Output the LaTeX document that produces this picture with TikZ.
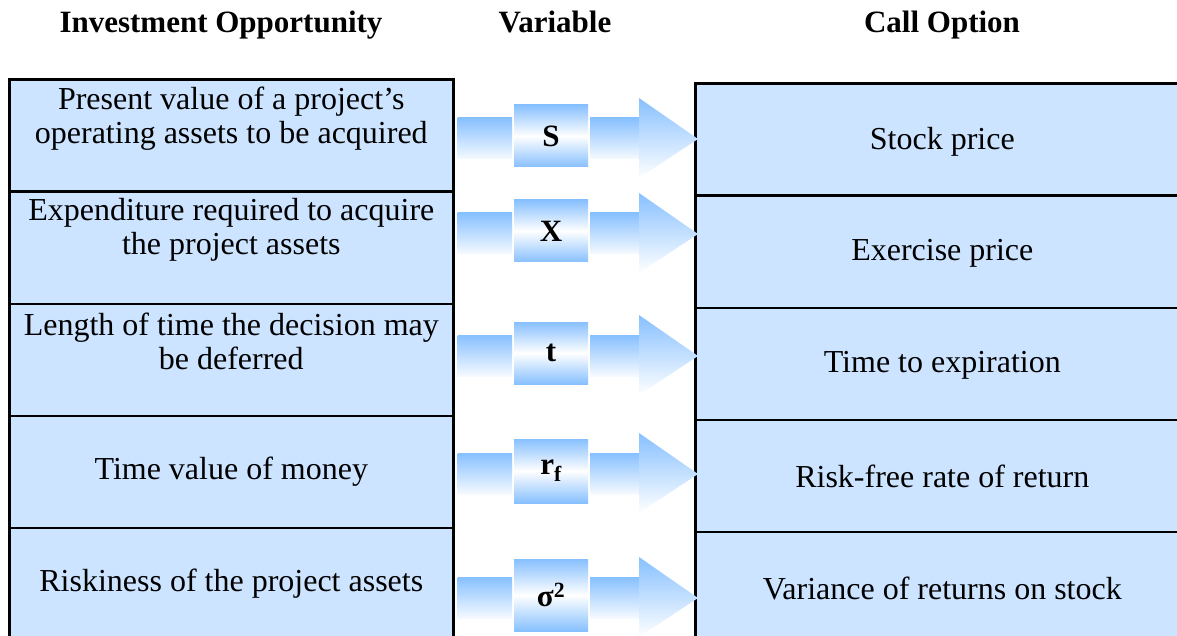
\documentclass[tikz,border=0pt]{standalone}
\usepackage{fontspec}
\IfFontExistsTF{LiberationSerif-Regular.ttf}{%
  \setmainfont{LiberationSerif}[Extension=.ttf,UprightFont=*-Regular,BoldFont=*-Bold,ItalicFont=*-Italic,BoldItalicFont=*-BoldItalic]}{%
  \setmainfont{Liberation Serif}}
\usetikzlibrary{calc}
\definecolor{cellblue}{RGB}{204,228,255}
\definecolor{arrowblue}{RGB}{135,192,255}
\begin{document}
\begin{tikzpicture}[x=1pt,y=-1pt,
  cell/.style={draw=black, line width=2.6pt, fill=cellblue, inner sep=0pt,
    anchor=north west, minimum height=112pt},
  lcell/.style={cell, minimum width=444pt},
  rcell/.style={cell, minimum width=494pt},
  txt/.style={font=\rmfamily\fontsize{32}{34}\selectfont, align=center, inner sep=0pt},
  hdr/.style={font=\rmfamily\fontsize{31}{34}\selectfont\bfseries, inner sep=0pt, anchor=base},
  varbox/.style={minimum width=74pt, inner sep=0pt, shading=axis,
    top color=arrowblue, bottom color=arrowblue, middle color=white,
    font=\rmfamily\fontsize{31}{34}\selectfont\bfseries},
  bargrad/.style={top color=arrowblue, bottom color=arrowblue!8},
  headgrad/.style={top color=arrowblue, bottom color=white}
]
\useasboundingbox (0,0) rectangle (1177,636);
\clip (0,0) rectangle (1177,636);

% headers
\node[hdr] (H1) at (221,33) {Investment Opportunity};
\node[hdr] (H2) at (555,33) {Variable};
\node[hdr] (H3) at (942,33) {Call Option};

% left column
\node[lcell] (L1) at (8,78.5) {};
\node[lcell] (L2) at (8,190.5) {};
\node[lcell] (L3) at (8,302.5) {};
\node[lcell] (L4) at (8,414.5) {};
\node[lcell] (L5) at (8,526.5) {};

% right column
\node[rcell] (R1) at (694,82.5) {};
\node[rcell] (R2) at (694,194.5) {};
\node[rcell] (R3) at (694,306.5) {};
\node[rcell] (R4) at (694,418.5) {};
\node[rcell] (R5) at (694,530.5) {};

% left texts
\node[txt] (LT1) at ($(L1.center)+(0,-17)$) {Present value of a project's\\operating assets to be acquired};
\node[txt] (LT2) at ($(L2.center)+(0,-18)$) {Expenditure required to acquire\\the project assets};
\node[txt] (LT3) at ($(L3.center)+(0,-18)$) {Length of time the decision may\\be deferred};
\node[txt] (LT4) at (L4.center) {Time value of money};
\node[txt] (LT5) at (L5.center) {Riskiness of the project assets};

% right texts
\node[txt] (RT1) at ($(R1.center)+(0,2)$) {Stock price};
\node[txt] (RT2) at ($(R2.center)+(0,2)$) {Exercise price};
\node[txt] (RT3) at ($(R3.center)+(0,2)$) {Time to expiration};
\node[txt] (RT4) at ($(R4.center)+(0,1)$) {Risk-free rate of return};
\node[txt] (RT5) at ($(R5.center)+(0,1)$) {Variance of returns on stock};

% variable boxes and arrows
\foreach \i/\by/\h/\lab in {1/136/62/S, 2/231/62/X, 3/353/62/t, 4/471/64/{r\textsubscript{f}}, 5/595/72/{σ\textsuperscript{2}}}{
  \coordinate (C\i) at (551,\by);
  % left bar
  \shade[bargrad] ($(L\i.east |- C\i)+(3,-18)$) rectangle ($(C\i)+(-39,23)$);
  % right bar
  \shade[bargrad] ($(C\i)+(39,-18)$) rectangle ($(R\i.west |- C\i)+(-54,23)$);
  % head
  \shade[headgrad] ($(R\i.west |- C\i)+(-55,-38)$) -- ($(R\i.west |- C\i)+(4,3)$)
     -- ($(R\i.west |- C\i)+(-55,42)$) -- cycle;
  \node[varbox, minimum height=\h pt] (V\i) at (C\i) {\lab};
}
\end{tikzpicture}
\end{document}
